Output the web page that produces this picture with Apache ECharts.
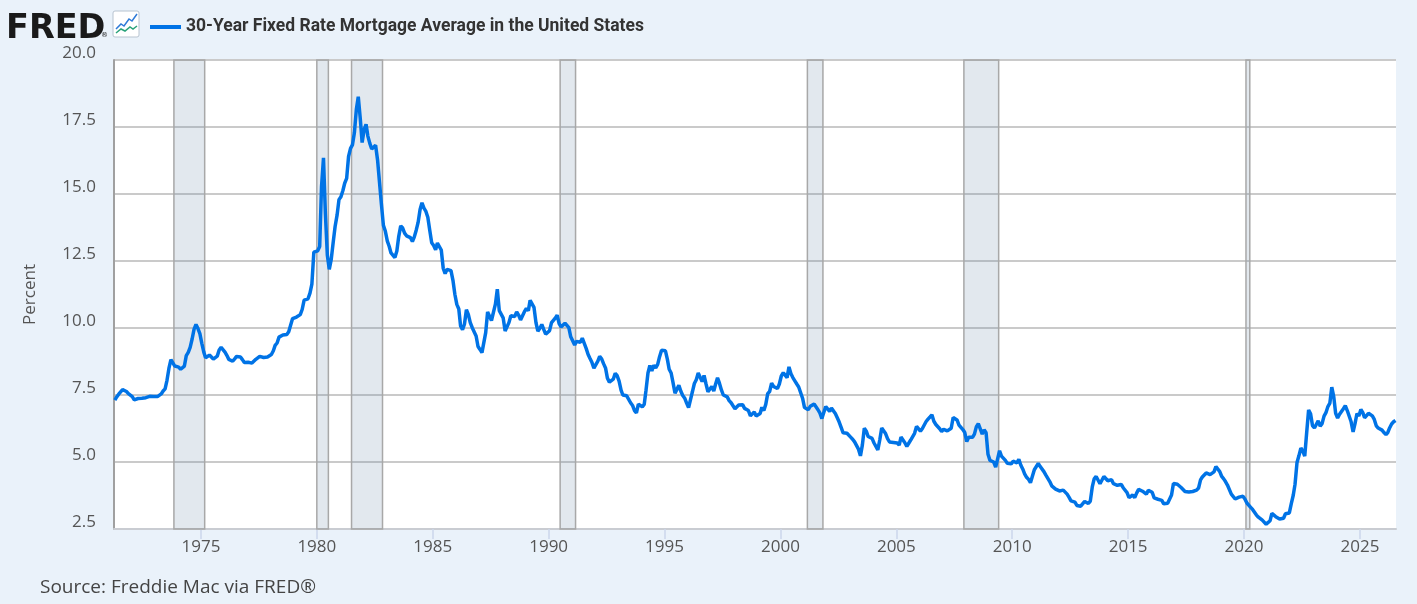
<!DOCTYPE html>
<html lang="en">
<head>
    <meta charset="UTF-8">
    <script type="text/javascript" src="https://cdn.jsdelivr.net/npm/echarts@6/dist/echarts.min.js"></script>
    <title>30-Year Fixed Rate Mortgage Average</title>
    <style type="text/css">
        html, body { margin: 0; padding: 0; background: #eaf2fa; }
        #chart { width: 1417px; height: 604px; }
    </style>
</head>
<body>
    <div id="chart"></div>
    <script type="text/javascript">
        let seriesName = "30-Year Fixed Rate Mortgage Average in the United States"
        let firstYear = 1971
        let firstMonth = 3 // April (0-based)

        // monthly values, percent
        let rates1970s = [
            7.31, 7.43, 7.53, 7.60, 7.70, 7.69, 7.63, 7.55, 7.48,
            7.44, 7.32, 7.29, 7.37, 7.41, 7.38, 7.40, 7.40, 7.43, 7.45, 7.44, 7.44,
            7.44, 7.44, 7.46, 7.54, 7.65, 7.73, 8.05, 8.50, 8.82, 8.77, 8.58, 8.54,
            8.54, 8.46, 8.41, 8.58, 8.97, 9.09, 9.28, 9.59, 9.96, 10.13, 9.98, 9.79,
            9.43, 9.10, 8.89, 8.82, 8.99, 9.01, 8.84, 8.85, 8.95, 9.18, 9.28, 9.21,
            9.10, 8.97, 8.83, 8.77, 8.76, 8.85, 8.94, 8.95, 8.92, 8.82, 8.71, 8.71,
            8.72, 8.67, 8.69, 8.75, 8.83, 8.86, 8.94, 8.94, 8.90, 8.92, 8.92, 8.96,
            9.01, 9.15, 9.35, 9.44, 9.66, 9.70, 9.74, 9.78, 9.76, 9.86, 10.11, 10.35,
            10.39, 10.41, 10.43, 10.50, 10.69, 11.04, 11.09, 11.09, 11.30, 11.64, 12.83, 12.90
        ]
        let rates1980s = [
            12.88, 13.04, 15.28, 16.35, 14.26, 12.71, 12.19, 12.56, 13.20, 13.79, 14.21, 14.79,
            14.90, 15.13, 15.40, 15.58, 16.40, 16.70, 16.83, 17.29, 18.16, 18.63, 17.83, 16.92,
            17.40, 17.60, 17.16, 16.89, 16.68, 16.70, 16.82, 16.27, 15.43, 14.61, 13.83, 13.62,
            13.25, 13.04, 12.80, 12.78, 12.63, 12.87, 13.42, 13.81, 13.73, 13.54, 13.44, 13.42,
            13.37, 13.23, 13.39, 13.65, 13.94, 14.42, 14.67, 14.47, 14.35, 14.13, 13.64, 13.18,
            13.08, 12.92, 13.17, 13.20, 12.91, 12.22, 12.03, 12.19, 12.19, 12.14, 11.78, 11.26,
            10.88, 10.71, 10.08, 9.94, 10.14, 10.68, 10.51, 10.20, 10.01, 9.97, 9.70, 9.31,
            9.20, 9.08, 9.04, 9.83, 10.60, 10.54, 10.28, 10.33, 10.89, 11.45, 10.65, 10.64,
            10.38, 9.89, 9.93, 10.20, 10.46, 10.46, 10.43, 10.60, 10.48, 10.30, 10.27, 10.61,
            10.73, 10.65, 11.03, 11.05, 10.77, 10.20, 9.88, 9.99, 10.13, 9.95, 9.77, 9.74
        ]
        let rates1990s = [
            9.90, 10.20, 10.27, 10.37, 10.48, 10.16, 10.04, 10.10, 10.18, 10.18, 10.01, 9.67,
            9.64, 9.37, 9.50, 9.49, 9.47, 9.62, 9.58, 9.24, 9.01, 8.86, 8.71, 8.50,
            8.43, 8.76, 8.94, 8.85, 8.67, 8.51, 8.13, 7.98, 7.92, 8.09, 8.31, 8.22,
            8.02, 7.68, 7.50, 7.47, 7.47, 7.42, 7.21, 7.11, 6.92, 6.83, 7.16, 7.17,
            7.06, 7.15, 7.68, 8.32, 8.60, 8.40, 8.61, 8.51, 8.64, 8.93, 9.17, 9.20,
            9.15, 8.83, 8.46, 8.32, 7.96, 7.57, 7.61, 7.86, 7.64, 7.48, 7.38, 7.20,
            7.03, 7.08, 7.62, 7.93, 8.07, 8.32, 8.25, 8.00, 8.23, 7.92, 7.62, 7.60,
            7.82, 7.65, 7.90, 8.14, 7.94, 7.69, 7.50, 7.48, 7.43, 7.29, 7.21, 7.10,
            6.99, 7.04, 7.13, 7.14, 7.14, 7.00, 6.95, 6.92, 6.72, 6.71, 6.87, 6.72,
            6.79, 6.81, 7.04, 6.92, 7.15, 7.55, 7.63, 7.94, 7.82, 7.85, 7.74, 7.91
        ]
        let rates2000s = [
            8.21, 8.33, 8.24, 8.15, 8.55, 8.29, 8.15, 8.03, 7.91, 7.80, 7.75, 7.38,
            7.03, 7.05, 6.95, 7.08, 7.15, 7.16, 7.13, 6.95, 6.82, 6.62, 6.66, 7.07,
            7.00, 6.89, 7.01, 6.99, 6.81, 6.65, 6.49, 6.29, 6.09, 6.11, 6.07, 6.05,
            5.92, 5.84, 5.75, 5.81, 5.48, 5.23, 5.63, 6.26, 6.15, 5.95, 5.93, 5.88,
            5.71, 5.64, 5.45, 5.83, 6.27, 6.29, 6.06, 5.87, 5.75, 5.72, 5.73, 5.75,
            5.71, 5.63, 5.93, 5.86, 5.72, 5.58, 5.70, 5.82, 5.77, 6.07, 6.33, 6.27,
            6.15, 6.25, 6.32, 6.51, 6.60, 6.68, 6.76, 6.52, 6.40, 6.36, 6.24, 6.14,
            6.22, 6.29, 6.16, 6.18, 6.26, 6.66, 6.70, 6.57, 6.38, 6.38, 6.21, 6.10,
            5.76, 5.92, 5.97, 5.92, 6.04, 6.32, 6.43, 6.48, 6.04, 6.20, 6.09, 5.29,
            5.06, 5.13, 5.00, 4.81, 4.86, 5.42, 5.22, 5.19, 5.06, 4.95, 4.88, 4.93
        ]
        let rates2010s = [
            5.03, 4.99, 4.97, 5.10, 4.89, 4.74, 4.56, 4.43, 4.35, 4.23, 4.30, 4.71,
            4.76, 4.95, 4.84, 4.84, 4.64, 4.51, 4.55, 4.27, 4.11, 4.07, 3.99, 3.96,
            3.92, 3.89, 3.95, 3.91, 3.80, 3.68, 3.55, 3.60, 3.50, 3.38, 3.35, 3.35,
            3.41, 3.53, 3.57, 3.45, 3.54, 4.07, 4.37, 4.46, 4.49, 4.19, 4.26, 4.46,
            4.43, 4.30, 4.34, 4.34, 4.19, 4.16, 4.13, 4.12, 4.16, 4.04, 4.00, 3.86,
            3.67, 3.71, 3.77, 3.67, 3.84, 3.98, 4.05, 3.91, 3.89, 3.80, 3.94, 3.96,
            3.87, 3.66, 3.69, 3.61, 3.60, 3.57, 3.44, 3.44, 3.46, 3.47, 3.77, 4.20,
            4.15, 4.17, 4.20, 4.05, 4.01, 3.90, 3.97, 3.88, 3.81, 3.90, 3.92, 3.95,
            4.03, 4.33, 4.44, 4.47, 4.59, 4.57, 4.53, 4.55, 4.63, 4.83, 4.87, 4.64,
            4.46, 4.37, 4.27, 4.14, 4.07, 3.80, 3.77, 3.62, 3.61, 3.69, 3.70, 3.72
        ]
        let rates2020s = [
            3.62, 3.47, 3.45, 3.31, 3.23, 3.16, 3.02, 2.94, 2.89, 2.83, 2.77, 2.68,
            2.67, 2.81, 3.08, 3.06, 2.96, 2.98, 2.87, 2.84, 2.90, 3.07, 3.07, 3.10,
            3.45, 3.76, 4.17, 4.98, 5.23, 5.52, 5.41, 5.22, 6.11, 6.94, 6.80, 6.36,
            6.27, 6.26, 6.54, 6.34, 6.43, 6.71, 6.84, 7.07, 7.20, 7.79, 7.44, 6.82,
            6.64, 6.78, 6.82, 6.99, 7.10, 6.92, 6.85, 6.50, 6.12, 6.43, 6.81, 6.72,
            6.96, 6.84, 6.65, 6.73, 6.82, 6.82, 6.72, 6.59, 6.35, 6.27, 6.24, 6.19,
            6.10, 6.02, 6.10, 6.28, 6.42, 6.50, 6.55
        ]

        // recession shading (start, end)
        let recessions = [
            ["1973-11-01", "1975-03-01"],
            ["1980-01-01", "1980-07-01"],
            ["1981-07-01", "1982-11-01"],
            ["1990-07-01", "1991-03-01"],
            ["2001-03-01", "2001-11-01"],
            ["2007-12-01", "2009-06-01"],
            ["2020-02-01", "2020-04-01"]
        ]

        let yearTicks = [1975, 1980, 1985, 1990, 1995, 2000, 2005, 2010, 2015, 2020, 2025]

        let allRates = rates1970s.concat(rates1980s, rates1990s, rates2000s, rates2010s, rates2020s)
        let data = allRates.map((v, i) => [Date.UTC(firstYear, firstMonth + i, 15), v])
        let tickTimes = yearTicks.map((y) => Date.UTC(y, 0, 1))
        let recessionAreas = recessions.map(([a, b]) => [{ xAxis: Date.parse(a) }, { xAxis: Date.parse(b) }])

        let chart = echarts.init(document.getElementById('chart'))
        let font = 'Open Sans'

        let option = {
            animation: false,
            backgroundColor: '#eaf2fa',
            grid: {
                left: 114, right: 21, top: 60, bottom: 75,
                show: true, backgroundColor: '#ffffff', borderWidth: 0
            },
            legend: {
                left: 150, top: 18, padding: 0,
                itemWidth: 31, itemHeight: 4, itemGap: 0,
                data: [{ name: seriesName, icon: 'rect' }],
                textStyle: { fontFamily: 'Roboto', fontWeight: 'bold', fontSize: 17.5, color: '#333333' }
            },
            graphic: [
                { type: 'text', left: 6, top: 12, style: { text: 'FRED', font: 'bold 33.5px "DejaVu Sans"', fill: '#1a1a1a' } },
                { type: 'text', left: 101, top: 32, style: { text: '®', font: '7px "DejaVu Sans"', fill: '#1a1a1a' } },
                { type: 'rect', shape: { x: 113, y: 11, width: 26, height: 26, r: 2 }, style: { fill: '#ffffff', stroke: '#b8c4d0', lineWidth: 1 } },
                { type: 'polyline', shape: { points: [[116, 29], [121, 24], [124, 26], [129, 19], [132, 21], [137, 14]] }, style: { stroke: '#2e7ad8', lineWidth: 1.5, fill: null } },
                { type: 'polyline', shape: { points: [[116, 33], [121, 29], [125, 31], [130, 27], [133, 29], [137, 26]] }, style: { stroke: '#2aa37a', lineWidth: 1.5, fill: null } },
                { type: 'text', left: 40, top: 578, style: { text: 'Source: Freddie Mac via FRED®', font: '19px "Open Sans"', fill: '#444444' } }
            ],
            xAxis: {
                type: 'value',
                min: Date.UTC(1971, 3, 2),
                max: Date.UTC(2026, 6, 23),
                axisLine: { show: true, onZero: false, lineStyle: { color: '#c9ccd2', width: 2 } },
                axisTick: { show: true, customValues: tickTimes, length: 10, lineStyle: { color: '#ccd6eb', width: 1.5 } },
                axisLabel: {
                    customValues: tickTimes,
                    formatter: (v) => String(new Date(v).getUTCFullYear()),
                    fontFamily: font, fontSize: 17, color: '#555555', margin: 10
                },
                splitLine: { show: false }
            },
            yAxis: {
                type: 'value',
                min: 2.5, max: 20, interval: 2.5,
                name: 'Percent', nameLocation: 'middle', nameGap: 75,
                nameTextStyle: { fontFamily: font, fontSize: 17, color: '#555555' },
                axisLine: { show: true, lineStyle: { color: '#a0a0a0', width: 2 } },
                axisTick: { show: false },
                axisLabel: {
                    formatter: (v) => v.toFixed(1),
                    fontFamily: font, fontSize: 17, color: '#555555', margin: 18,
                    verticalAlign: 'bottom', lineHeight: 14
                },
                splitLine: { show: true, lineStyle: { color: '#cacaca', width: 2 } }
            },
            series: [
                {
                    name: 'recessions',
                    type: 'line',
                    data: [],
                    z: 1,
                    markArea: {
                        silent: true,
                        itemStyle: { color: 'rgba(110,140,170,0.2)', borderColor: '#a8a8a8', borderWidth: 1.5 },
                        data: recessionAreas
                    }
                },
                {
                    name: seriesName,
                    type: 'line',
                    data: data,
                    z: 3,
                    showSymbol: false,
                    color: '#0073e6',
                    lineStyle: { color: '#0073e6', width: 3.5 },
                    emphasis: { disabled: true }
                }
            ]
        }

        option && chart.setOption(option)
    </script>
</body>
</html>
